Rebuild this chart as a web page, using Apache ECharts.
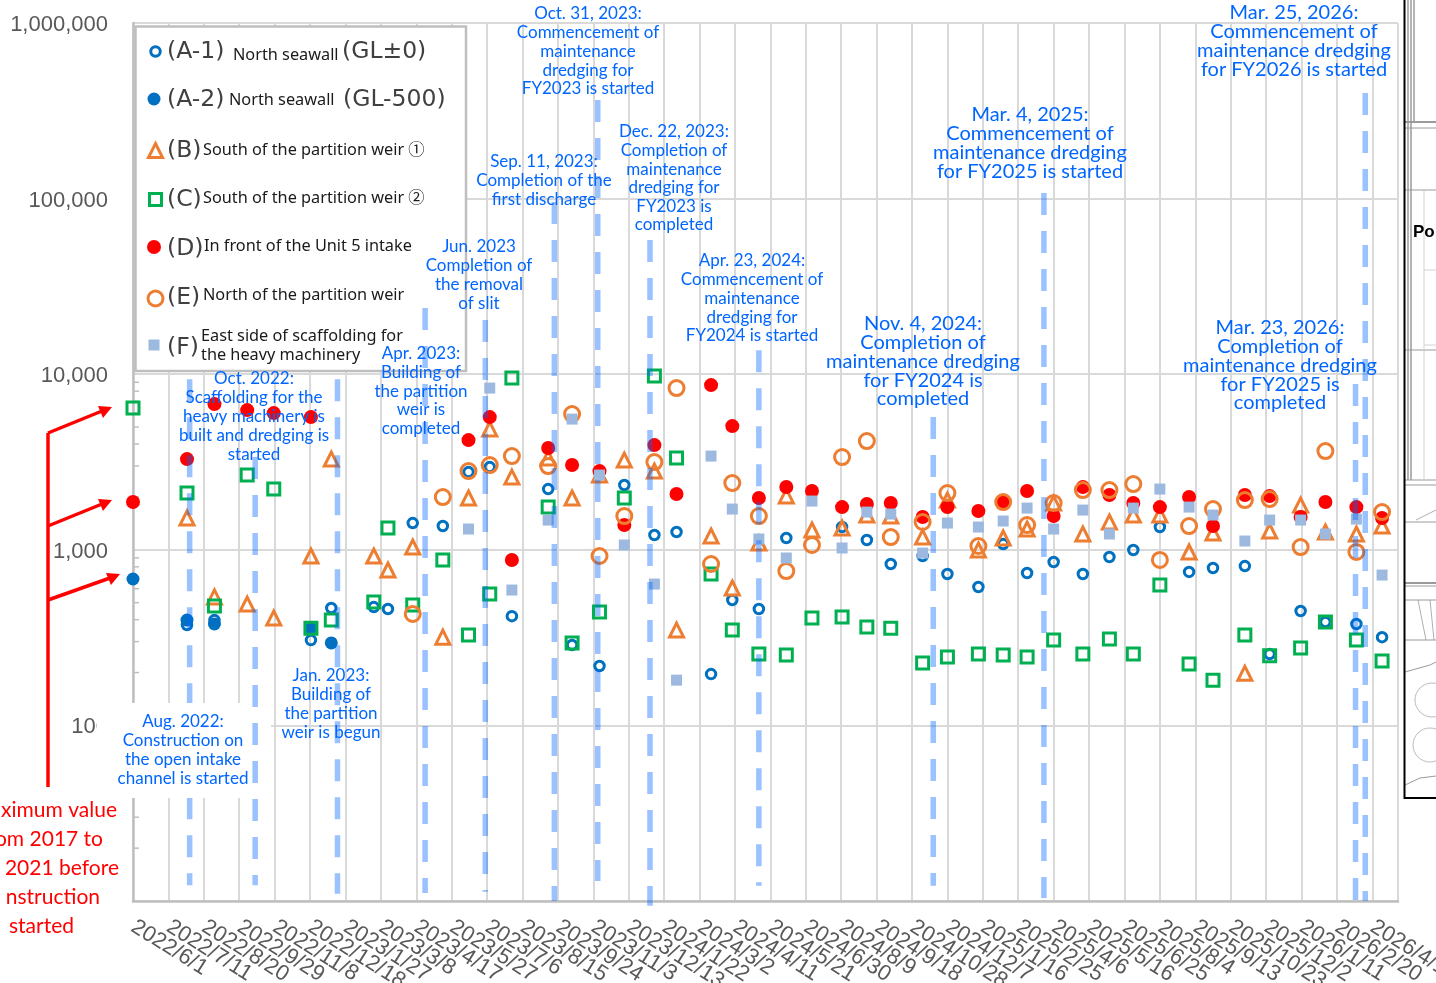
<!DOCTYPE html>
<html>
<head>
<meta charset="utf-8">
<script src="https://cdn.jsdelivr.net/npm/echarts@6/dist/echarts.min.js"></script>
<style>html,body{margin:0;padding:0;background:#fff}#c{width:1436px;height:983px}</style>
</head>
<body>
<div id="c"></div>
<script>
// Days since 2022/6/1 of each sampling campaign
const sampleDays = [0,61,92,129,159,201,224,272,288,316,350,379,403,428,469,496,527,555,589,614,653,677,707,738,767,801,829,856,892,920,955,983,1010,1040,1073,1103,1130,1160,1193,1220,1256,1284,1319,1347,1382,1411];
const _ = null;
const seriesA1 = [_,373,398,_,_,306,466,472,460,1420,1366,2772,2959,419,2218,287,218,2338,1214,1263,196,518,460,1168,_,1348,1137,830,922,728,614,1079,738,852,728,910,997,1348,748,788,808,255,448,388,378,318];
const seriesA2 = [682,398,378,_,_,358,295,_,_,_,_,_,_,_,_,_,_,_,_,_,_,_,_,_,_,_,_,_,_,_,_,_,_,_,_,_,_,_,_,_,_,_,_,_,_,_];
const seriesB  = [_,1517,539,491,409,922,3285,922,767,1037,318,1972,4868,2595,3330,1972,2665,3243,2807,349,1198,606,1093,2024,1296,1331,1577,1557,1182,1920,997,1168,1313,1846,1230,1440,1577,1577,972,1247,198,1279,1798,1263,1230,1366];
const seriesC  = [6414,2104,479,2665,2218,358,398,504,1331,485,875,327,560,9502,1751,295,442,1972,9752,3330,728,349,255,252,409,414,363,358,227,245,255,252,245,306,255,310,255,630,224,181,327,249,276,388,306,233];
const seriesD  = [1871,3285,6757,6245,6004,5697,_,_,_,_,_,4215,5697,875,3797,3038,2807,1384,3948,2077,8668,5064,1972,2277,2160,1751,1822,1846,1536,1751,1662,1871,2160,1557,2277,2051,1846,1751,1997,1366,2051,2024,1536,1871,1751,1517];
const seriesE  = [_,_,_,_,_,_,_,_,_,431,1997,2807,3038,3418,2999,5927,922,1557,3161,8335,830,2399,1557,757,1065,3373,4159,1182,1440,2104,1051,1871,1384,1846,2189,2189,2369,875,1366,1706,1920,1945,1037,3649,972,1640];
const seriesF  = [_,_,_,_,_,_,_,_,_,_,_,1313,8335,590,1477,5550,2665,1065,638,181,3418,1706,1152,898,1895,1024,1640,1598,958,1420,1348,1458,1728,1313,1684,1230,1728,2218,1751,1577,1122,1477,1477,1230,1496,718];
const seriesNames = ['(A-1) North seawall (GL±0)','(A-2) North seawall (GL-500)','(B) South of the partition weir ①','(C) South of the partition weir ②','(D) In front of the Unit 5 intake','(E) North of the partition weir','(F) East side of scaffolding for the heavy machinery'];
const xTickLabels = ['2022/6/1','2022/7/11','2022/8/20','2022/9/29','2022/11/8','2022/12/18','2023/1/27','2023/3/8','2023/4/17','2023/5/27','2023/7/6','2023/8/15','2023/9/24','2023/11/3','2023/12/13','2024/1/22','2024/3/2','2024/4/11','2024/5/21','2024/6/30','2024/8/9','2024/9/18','2024/10/28','2024/12/7','2025/1/16','2025/2/25','2025/4/6','2025/5/16','2025/6/25','2025/8/4','2025/9/13','2025/10/23','2025/12/2','2026/1/11','2026/2/20','2026/4/1'];
const yTickLabels = {100:'100',1000:'1,000',10000:'10,000',100000:'100,000',1000000:'1,000,000'};
const minorTickValues = [20,30,40,50,60,70,80,90,200,300,400,500,600,700,800,900,2000,3000,4000,5000,6000,7000,8000,9000,20000,30000,40000,50000,60000,70000,80000,90000,200000,300000,400000,500000,600000,700000,800000,900000];
// Dashed event lines: [day, top value, bottom value]
const eventLines = [[64,9374,12.3],[138,3373,12.3],[231,9374,11],[330,23820,11.1],[398,20360,11.3],[476,95630,10],[525,364000,13],[584,58100,9.4],[707,13700,12.2],[904,5706,12.2],[1029,107600,10.4],[1381,8795,10],[1392,399000,10]];
// Annotations: [centre x, font size, first-line y, line step, lines...]
const notes = [
 [183,17,722,18.8,'Aug. 2022:','Construction on','the open intake','channel is started'],
 [254,17,379,18.8,'Oct. 2022:','Scaffolding for the','heavy machinery is','built and dredging is','started'],
 [331,17,676,18.7,'Jan. 2023:','Building of','the partition','weir is begun'],
 [421,17,354,18.6,'Apr. 2023:','Building of','the partition','weir is','completed'],
 [479,17,247,19,'Jun. 2023','Completion of','the removal','of slit'],
 [544,17,162,18.6,'Sep. 11, 2023:','Completion of the','first discharge'],
 [588,17,14,18.7,'Oct. 31, 2023:','Commencement of','maintenance','dredging for','FY2023 is started'],
 [674,17,132,18.6,'Dec. 22, 2023:','Completion of','maintenance','dredging for','FY2023 is','completed'],
 [752,17,261,18.7,'Apr. 23, 2024:','Commencement of','maintenance','dredging for','FY2024 is started'],
 [923,20,324,18.7,'Nov. 4, 2024:','Completion of','maintenance dredging','for FY2024 is','completed'],
 [1030,20,115,18.7,'Mar. 4, 2025:','Commencement of','maintenance dredging','for FY2025 is started'],
 [1294,20,13,18.7,'Mar. 25, 2026:','Commencement of','maintenance dredging','for FY2026 is started'],
 [1280,20,328,18.7,'Mar. 23, 2026:','Completion of','maintenance dredging','for FY2025 is','completed']
];
const legendTexts = [
 ['(A-1)',167,52,23.5],['North seawall',233,55,16.3],['(GL±0)',342,52,23.5],
 ['(A-2)',167,100,23.5],['North seawall',229,100,16.3],['(GL-500)',343,100,23.5],
 ['(B)',167,151,23.5],['South of the partition weir ①',203,150,16.3],
 ['(C)',167,200,23.5],['South of the partition weir ②',203,198,16.3],
 ['(D)',167,249,23.5],['In front of the Unit 5 intake',204,246,16.3],
 ['(E)',167,298,23.5],['North of the partition weir',203,295,16.3],
 ['(F)',167,348,23.5],['East side of scaffolding for',201,336,16.3],['the heavy machinery',201,355,16.3]
];
const redLines = [['ximum value',117,810],['om 2017 to',103,839],['2021 before',119,868],['nstruction',100,897],['started',74,926]];
// Legend symbols: [series index, centre x, centre y, size, border]
const legendKeys = [[0,154,50,9.5,3],[1,154,99,13,0],[2,154,149,14,3],[3,154,198,12,3],[4,154,247,14,0],[5,154,297,15,3],[6,154,345,11,0]];

const points = vals => sampleDays.map((d,i)=>[d,vals[i]]).filter(p=>p[1]!==null);
const hollow = (name,vals,symbol,size,color,w) => ({name,type:'scatter',z:2,symbol,symbolSize:size,data:points(vals),silent:true,
  itemStyle:{color:'rgba(255,255,255,0)',borderColor:color,borderWidth:w,opacity:1}});
const solid = (name,vals,symbol,size,color) => ({name,type:'scatter',z:2,symbol,symbolSize:size,data:points(vals),silent:true,
  itemStyle:{color,opacity:1}});

const series = [
 {type:'scatter',z:1,silent:true,symbol:'rect',symbolSize:[6,1.5],symbolOffset:[3,0],data:minorTickValues.map(v=>[0,v]),itemStyle:{color:'#bfbfbf',opacity:1}},
 hollow(seriesNames[0],seriesA1,'circle',9.5,'#0070C0',3),
 solid(seriesNames[1],seriesA2,'circle',13,'#0070C0'),
 hollow(seriesNames[2],seriesB,'triangle',14,'#ED7D31',3),
 hollow(seriesNames[3],seriesC,'rect',12,'#00B050',3),
 solid(seriesNames[4],seriesD,'circle',14,'#FF0000'),
 hollow(seriesNames[5],seriesE,'circle',15,'#ED7D31',3),
 solid(seriesNames[6],seriesF,'rect',11,'#9DB9E0')
];
eventLines.forEach((l,i)=>series.push({type:'line',z:i===0?3:5,silent:true,clip:false,symbol:'none',
  lineStyle:{color:'#0066FF',opacity:0.4,width:5.5,type:[22,16]},data:[[l[0],l[1]],[l[0],l[2]]]}));

const graphic = [];
const T = (text,x,y,size,fill,align,family) => graphic.push({type:'text',z:6,silent:true,style:{text,x,y,fill,align:align||'left',verticalAlign:'middle',font:`${size}px ${family||'Lato'}`}});
graphic.push({type:'rect',z:4,silent:true,shape:{x:97,y:703,width:174,height:95},style:{fill:'#fff'}});
graphic.push({type:'rect',z:4,silent:true,shape:{x:135.5,y:26.5,width:330.5,height:344.5},style:{fill:'#fff',stroke:'#bfbfbf',lineWidth:2.5}});
legendTexts.forEach(t=>T(t[0],t[1],t[2],t[3],t[3]>20?'#404040':'#1a1a1a','left',t[3]>20?'"DejaVu Sans"':'"Noto Sans","Noto Sans CJK JP"'));
notes.forEach(n=>{for(let i=4;i<n.length;i++)T(n[i],n[0],n[2]+(i-4)*n[3],n[1],'#0066FF','center');});
redLines.forEach(t=>T(t[0],t[1],t[2],21,'#FF0000','right'));
const red={stroke:'#FF0000',lineWidth:3.5,fill:null};
graphic.push({type:'polyline',z:6,silent:true,shape:{points:[[48,433],[48,787]]},style:red});
[[48,433,102,411,112,407],[48,526,102,504,112,500],[48,600,110,578,120,574]].forEach(a=>{
  graphic.push({type:'polyline',z:6,silent:true,shape:{points:[[a[0],a[1]],[a[2],a[3]]]},style:red});
  graphic.push({type:'polygon',z:6,silent:true,shape:{points:[[a[4],a[5]],[a[4]-14,a[5]-1],[a[4]-9,a[5]+11]]},style:{fill:'#FF0000'}});
});
const g='#9a9a9a';
const P=(pts,w,c)=>graphic.push({type:'polyline',z:6,silent:true,shape:{points:pts},style:{stroke:c||g,lineWidth:w||1,fill:null}});
[[1408,0,1408,480],[1411,0,1411,480],[1414,0,1414,122]].forEach(a=>P([[a[0],a[1]],[a[2],a[3]]],1.5));
[122,128,190,350,480,485,522,583,586,600,640].forEach(y=>P([[1405,y],[1436,y]],y===583||y===122?2:1));
P([[1405,672],[1430,665],[1436,662]],1);
P([[1424,190],[1424,480]],0.8,'#c8c8c8');P([[1424,270],[1436,270]],0.8,'#c8c8c8');P([[1424,345],[1436,345]],0.8,'#c8c8c8');
P([[1416,520],[1436,510]],0.8);P([[1418,600],[1426,640]],0.8);P([[1430,600],[1434,640]],0.8);
graphic.push({type:'circle',z:6,silent:true,shape:{cx:1432,cy:700,r:17},style:{fill:null,stroke:'#bbb',lineWidth:1}});
graphic.push({type:'circle',z:6,silent:true,shape:{cx:1430,cy:745,r:17},style:{fill:null,stroke:'#bbb',lineWidth:1}});
P([[1405,785],[1420,778],[1436,776]],1);
P([[1404.5,0],[1404.5,798],[1436,798]],2,'#000');
graphic.push({type:'text',z:6,silent:true,style:{text:'Po',x:1413,y:232,fill:'#000',verticalAlign:'middle',font:'bold 17px "Liberation Sans"'}});

const legends = legendKeys.map(k=>{
  const s=series[k[0]+1];
  return {orient:'vertical',left:k[1]-k[3]/2,top:k[2]-k[3]/2,z:5,padding:0,itemWidth:k[3],itemHeight:k[3],selectedMode:false,
    data:[{name:seriesNames[k[0]],icon:s.symbol,itemStyle:Object.assign({},s.itemStyle,k[4]?{borderWidth:k[4]}:{})}],formatter:()=>'',textStyle:{fontSize:1}};
});
const xLabelStyle = {rotate:-32,margin:24,fontSize:22,color:'#595959',fontFamily:'Liberation Sans',align:'left',verticalAlign:'middle',hideOverlap:false};

const option = {
 animation:false,
 backgroundColor:'#fff',
 grid:{left:133,right:38,top:23,height:878,outerBoundsMode:'none',containLabel:false},
 xAxis:[{type:'value',min:0,max:1429,interval:40,
   axisLine:{onZero:false,lineStyle:{color:'#bfbfbf',width:2.5}},
   axisTick:{show:false},
   splitLine:{show:true,lineStyle:{color:'#d9d9d9',width:2}},
   axisLabel:Object.assign({},xLabelStyle,{showMinLabel:false,showMaxLabel:false,formatter:v=>xTickLabels[v/40]||''})},
  {type:'value',position:'bottom',min:0,max:1429,interval:1429,
   axisLine:{show:false},axisTick:{show:false},splitLine:{show:false},
   axisLabel:Object.assign({},xLabelStyle,{showMinLabel:true,showMaxLabel:false,formatter:v=>v===0?xTickLabels[0]:''})}],
 yAxis:{type:'log',logBase:10,min:10,max:1000000,
   axisLine:{show:true,onZero:false,lineStyle:{color:'#bfbfbf',width:2.5}},
   axisTick:{show:false},
   splitLine:{show:true,lineStyle:{color:'#d9d9d9',width:2}},
   axisLabel:{margin:25,fontSize:22,color:'#595959',fontFamily:'Liberation Sans',
     rich:{t:{fontSize:22,color:'#595959',fontFamily:'Liberation Sans',padding:[4,0,0,0]}},
     formatter:v=>{const s=yTickLabels[Math.round(v)];return s?`{t|${s}}`:'';}}},
 legend:legends,
 graphic:{elements:graphic},
 series
};
echarts.init(document.getElementById('c'),null,{renderer:'canvas'}).setOption(option);
</script>
</body>
</html>
